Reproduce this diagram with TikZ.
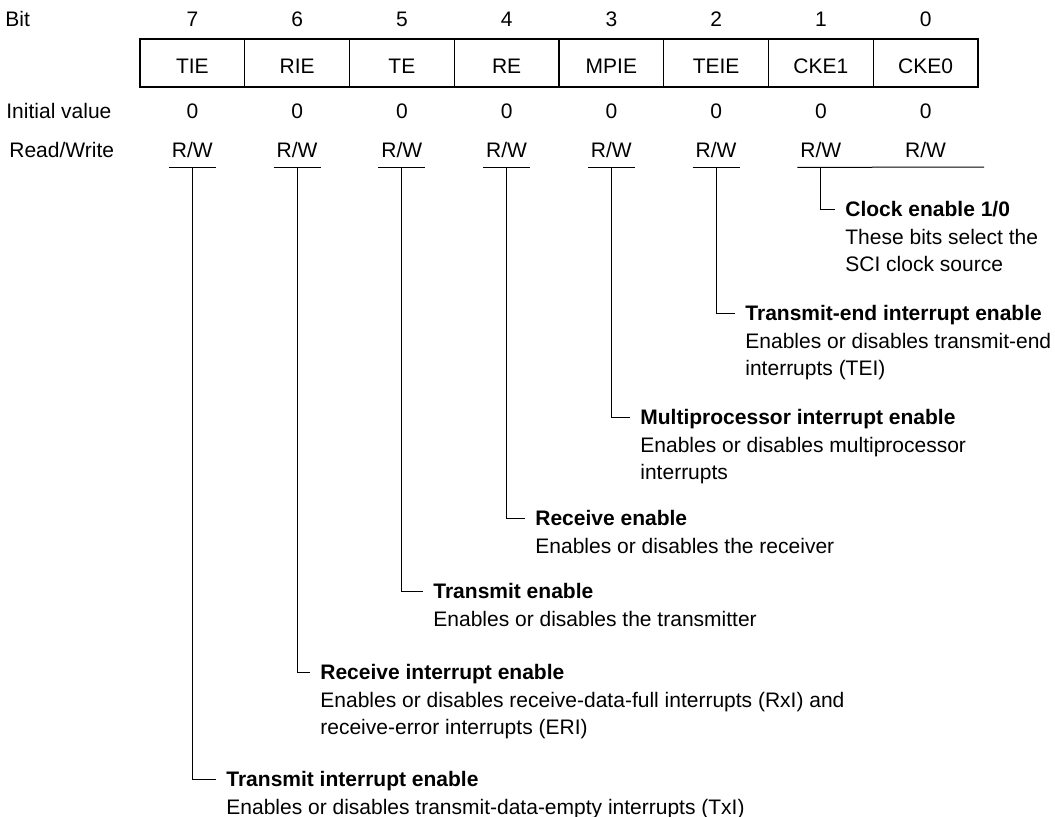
\documentclass[tikz,border=0pt]{standalone}
\usepackage{fontspec}
\setmainfont{Liberation Sans}
\usetikzlibrary{positioning}
\newcommand\regfont{\fontsize{10.5pt}{13.5pt}\selectfont}
\tikzset{
  cell/.style={draw=black,line width=0.7pt,minimum width=52.375pt,minimum height=24pt,inner sep=0pt,text height=10pt,text depth=0pt},
  rowtxt/.style={anchor=base,inner sep=0pt},
  rw/.style={anchor=base,minimum width=23pt,inner xsep=0pt,inner ysep=5pt,text depth=0pt},
  lead/.style={draw=black,line width=0.5pt},
  ttl/.style={anchor=west,font=\regfont\bfseries,inner xsep=5pt,inner ysep=0pt,text height=7.5pt,text depth=0pt},
  desc/.style={align=left,inner xsep=5pt,inner ysep=0pt}
}
\begin{document}
\begin{tikzpicture}[x=0.5pt,y=-0.5pt,font=\regfont]
\useasboundingbox (0,0) rectangle (1055,816);
\node[rowtxt,anchor=base west] (hbit) at (5,26) {Bit};
\node[rowtxt,anchor=base west] (hinit) at (6,118) {Initial value};
\node[rowtxt,anchor=base west] (hrw) at (9,157) {Read/Write};
\foreach \n/\lab [count=\i from 0] in {7/TIE,6/RIE,5/TE,4/RE,3/MPIE,2/TEIE,1/CKE1,0/CKE0} {
 \node[cell] (b\n) at (192.375+104.75*\i,63) {\lab};
 \node[rowtxt] (n\n) at (192.375+104.75*\i,26) {\n};
 \node[rowtxt] (v\n) at (192.375+104.75*\i,118) {0};
 \node[rw] (rw\n) at (192.375+104.75*\i,157) {R/W};
}
\foreach \n in {7,6,5,4,3,2}
 \draw[lead] (rw\n.south west) -- (rw\n.south east);
\coordinate (ckend) at (984,167);
\draw[lead] (rw1.south west) -- (ckend);
\foreach \n/\px/\py/\head/\body in {
 1/835/209/{Clock enable 1/0}/{These bits select the\\SCI clock source},
 2/735/313/{Transmit-end interrupt enable}/{Enables or disables transmit-end\\interrupts (TEI)},
 3/630/417/{Multiprocessor interrupt enable}/{Enables or disables multiprocessor\\interrupts},
 4/525/518/{Receive enable}/{Enables or disables the receiver},
 5/423/591/{Transmit enable}/{Enables or disables the transmitter},
 6/310/672/{Receive interrupt enable}/{Enables or disables receive-data-full interrupts (RxI) and\\receive-error interrupts (ERI)},
 7/216/779/{Transmit interrupt enable}/{Enables or disables transmit-data-empty interrupts (TxI)}} {
 \node[ttl] (t\n) at (\px,\py) {\head};
 \node[desc,below right=9.75pt and 0pt of t\n.west] (d\n) {\body};
 \draw[lead] (rw\n.south) |- (t\n.west);
}
\end{tikzpicture}
\end{document}
